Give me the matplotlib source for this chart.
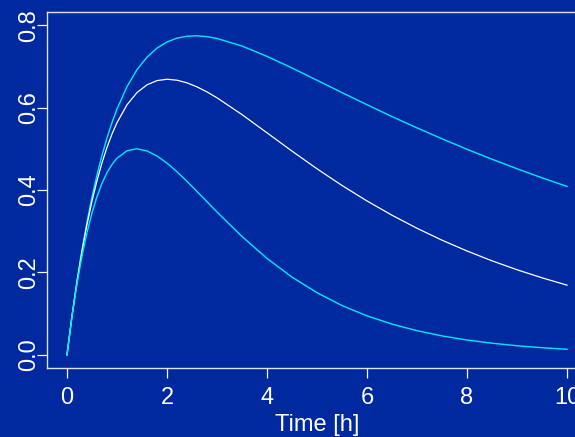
import matplotlib
matplotlib.use("Agg")
import matplotlib.pyplot as plt

# ================================================================
# DATA
# ================================================================

time_h = [0, 0.1, 0.2, 0.3, 0.4, 0.5, 0.6, 0.7, 0.8, 0.9, 1.0,
          1.2, 1.4, 1.6, 1.8, 2.0, 2.2, 2.4, 2.6, 2.8, 3.0,
          3.5, 4, 4.5, 5, 5.5, 6, 6.5, 7, 7.5, 8, 8.5, 9, 9.5, 10]

conc_high = [0, 0.0947, 0.1794, 0.2551, 0.3228, 0.3830, 0.4367, 0.4842,
             0.5264, 0.5637, 0.5966,
             0.6508, 0.6920, 0.7224, 0.7444, 0.7593, 0.7686, 0.7732, 0.7742,
             0.7722, 0.7678,
             0.7494, 0.7244, 0.6961, 0.6664, 0.6364, 0.6070, 0.5783, 0.5508,
             0.5243, 0.4989, 0.4747, 0.4516, 0.4296, 0.4087]

conc_mid = [0, 0.0943, 0.1776, 0.2513, 0.3160, 0.3729, 0.4226, 0.4660,
            0.5035, 0.5359, 0.5635,
            0.6068, 0.6365, 0.6553, 0.6655, 0.6688, 0.6665, 0.6601, 0.6503,
            0.6380, 0.6238,
            0.5830, 0.5388, 0.4944, 0.4515, 0.4110, 0.3734, 0.3388, 0.3071,
            0.2782, 0.2520, 0.2281, 0.2065, 0.1869, 0.1691]

conc_low = [0, 0.0928, 0.1722, 0.2398, 0.2968, 0.3446, 0.3840, 0.4162,
            0.4420, 0.4620, 0.4772,
            0.4952, 0.5000, 0.4948, 0.4826, 0.4652, 0.4442, 0.4210, 0.3964,
            0.3716, 0.3466,
            0.2872, 0.2340, 0.1886, 0.1508, 0.1196, 0.0946, 0.0746, 0.0586,
            0.0459, 0.0359, 0.0282, 0.0220, 0.0173, 0.0133]

x_ticks = [0, 2, 4, 6, 8, 10]
y_ticks = [0.0, 0.2, 0.4, 0.6, 0.8]

# ================================================================
# PLOT
# ================================================================

BG = "#0029a0"
plt.rcParams["font.family"] = ["Liberation Sans", "DejaVu Sans"]

fig = plt.figure(figsize=(5.75, 4.37), dpi=100, facecolor=BG)
ax = fig.add_axes([47 / 575, 1 - 368 / 437, 540 / 575, 356 / 437])
ax.set_facecolor(BG)

ax.plot(time_h, conc_high, color="#00e8ff", linewidth=1.0)
ax.plot(time_h, conc_mid, color="white", linewidth=0.9)
ax.plot(time_h, conc_low, color="#00e8ff", linewidth=1.0)

ax.set_xlim(-0.4, 10.4)
ax.set_ylim(-0.032, 0.832)
ax.set_xticks(x_ticks)
ax.set_xticklabels([str(v) for v in x_ticks])
ax.set_yticks(y_ticks)
ax.set_yticklabels([f"{v:.1f}" for v in y_ticks], rotation=90, va="center")

for s in ax.spines.values():
    s.set_color("#e0e4f4")
    s.set_linewidth(1.0)

ax.tick_params(colors="white", labelsize=17, length=7, width=0.9)
ax.tick_params(axis="x", pad=7)
ax.tick_params(axis="y", pad=-2)
ax.set_xlabel("Time [h]", color="white", fontsize=17, labelpad=3)

fig.savefig("out.png", dpi=100, facecolor=BG)
